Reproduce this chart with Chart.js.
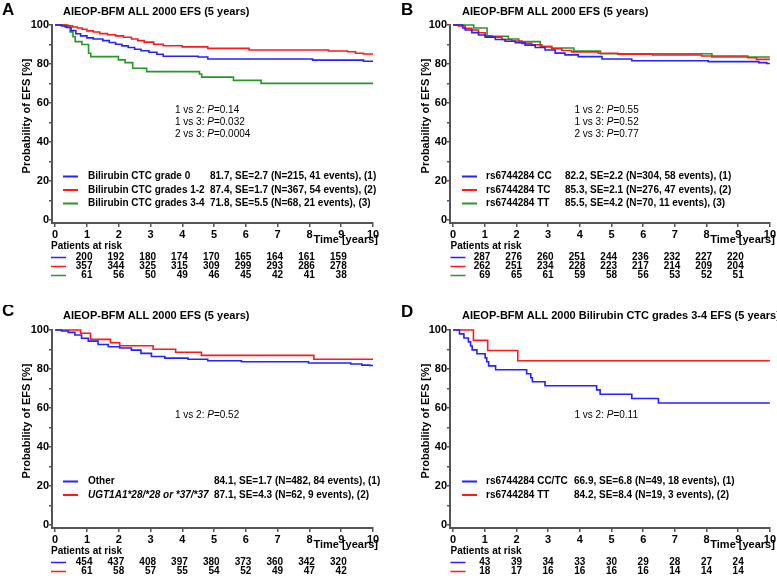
<!DOCTYPE html>
<html>
<head>
<meta charset="utf-8">
<script src="https://cdn.jsdelivr.net/npm/chart.js@4.4.1/dist/chart.umd.min.js"></script>
<style>
  body { margin: 0; background: #fff; width: 777px; height: 576px; position: relative; overflow: hidden; }
  canvas { position: absolute; }
</style>
</head>
<body>
<canvas id="chartA" width="388" height="305" style="left:0;top:0"></canvas>
<canvas id="chartB" width="389" height="305" style="left:388px;top:0"></canvas>
<canvas id="chartC" width="388" height="271" style="left:0;top:305px"></canvas>
<canvas id="chartD" width="389" height="271" style="left:388px;top:305px"></canvas>
<script>
// axis ticks
const xTicks = [0, 1, 2, 3, 4, 5, 6, 7, 8, 9, 10];
const yTicks = [0, 10, 20, 30, 40, 50, 60, 70, 80, 90, 100];

// A: bilirubin CTC grade, [years, EFS %]
const efsGrade0 = [[0,100],[0.2,99.5],[0.35,98.7],[0.5,97.2],[0.65,95.5],[0.8,94.4],[1.0,93.4],[1.2,92.8],[1.5,92.0],[1.7,91.0],[1.9,90.1],[2.1,89.3],[2.3,88.5],[2.5,87.6],[2.7,86.8],[2.95,86.0],[3.2,85.0],[3.4,84.0],[4.5,83.6],[4.8,82.6],[8.1,82.0],[9.7,81.4],[10,81.4]];
const efsGrade12 = [[0,100],[0.4,99.6],[0.55,99.0],[0.7,98.5],[0.85,97.8],[1.0,97.0],[1.2,96.4],[1.4,95.6],[1.65,95.0],[1.9,94.4],[2.15,93.7],[2.4,92.8],[2.6,92.0],[2.8,91.2],[3.1,90.1],[3.4,89.4],[4.0,88.8],[4.8,88.0],[6.1,87.2],[8.6,86.7],[9.2,86.3],[9.45,85.5],[9.7,85.1],[10,85.1]];
const efsGrade34 = [[0,100],[0.31,99.0],[0.47,96.5],[0.56,94.0],[0.63,91.5],[0.84,90.0],[1.05,85.5],[1.12,83.8],[1.99,82.1],[2.2,80.7],[2.44,77.8],[2.88,76.1],[4.54,74.9],[4.61,73.3],[5.61,71.6],[6.48,70.1],[10,70.1]];
const riskGrade0 = [200, 192, 180, 174, 170, 165, 164, 161, 159];
const riskGrade12 = [357, 344, 325, 315, 309, 299, 293, 286, 278];
const riskGrade34 = [61, 56, 50, 49, 46, 45, 42, 41, 38];

// B: rs6744284 genotype
const efsCC = [[0,100],[0.3,98.5],[0.38,97.4],[0.59,96.1],[0.8,94.9],[1.01,93.8],[1.33,92.6],[1.64,91.7],[1.96,90.9],[2.27,89.7],[2.59,88.5],[2.9,87.2],[3.22,85.6],[3.53,84.7],[3.95,83.8],[4.7,82.6],[5.64,81.7],[8.05,81.2],[9.65,80.7],[9.9,80.3],[10,80.3]];
const efsTC = [[0,100],[0.17,99.5],[0.38,98.3],[0.59,97.4],[0.8,96.0],[1.01,94.5],[1.22,93.8],[1.54,92.6],[1.85,91.8],[2.17,90.6],[2.48,89.9],[2.8,88.9],[3.11,87.8],[3.43,86.9],[3.74,86.2],[4.58,85.5],[5.2,85.0],[6.3,84.6],[7.85,84.1],[9.3,83.2],[9.58,82.4],[10,82.4]];
const efsTT = [[0,100],[0.65,98.5],[1.07,94.2],[1.74,92.8],[2.07,91.5],[2.75,88.9],[3.11,88.2],[3.81,86.6],[4.65,85.3],[8.17,83.6],[10,83.6]];
const riskCC = [287, 276, 260, 251, 244, 236, 232, 227, 220];
const riskTC = [262, 251, 234, 228, 223, 217, 214, 209, 204];
const riskTT = [69, 65, 61, 59, 58, 56, 53, 52, 51];

// C: UGT1A1 genotype
const efsOther = [[0,100],[0.2,99.5],[0.41,98.8],[0.62,97.4],[0.83,95.8],[1.04,94.3],[1.35,92.6],[1.67,91.4],[2.03,90.8],[2.4,89.7],[2.7,88.0],[3.03,86.4],[3.45,85.6],[4.18,85.0],[4.8,84.2],[5.86,83.7],[7.97,83.1],[9.3,82.6],[9.65,82.0],[9.9,81.8],[10,81.8]];
const efsUgt = [[0,100],[0.8,98.3],[1.11,95.2],[1.74,93.5],[2.03,91.9],[3.08,90.1],[3.79,88.6],[4.6,87.0],[8.14,85.0],[10,85.0]];
const riskOther = [454, 437, 408, 397, 380, 373, 360, 342, 320];
const riskUgt = [61, 58, 57, 55, 54, 52, 49, 47, 42];

// D: grades 3-4 by rs6744284
const efsCCTC = [[0,100],[0.2,98.0],[0.34,95.9],[0.48,93.9],[0.55,91.8],[0.6,89.8],[0.75,87.8],[1.01,85.7],[1.06,83.7],[1.12,81.6],[1.34,79.6],[2.32,77.6],[2.45,75.5],[2.5,73.5],[2.9,71.4],[4.53,69.3],[4.64,67.1],[5.64,64.9],[6.48,62.6],[10,62.6]];
const efsTT34 = [[0,100],[0.64,94.7],[1.09,89.5],[2.04,84.2],[10,84.2]];
const riskCCTC = [43, 39, 34, 33, 30, 29, 28, 27, 24];
const riskTT34 = [18, 17, 16, 16, 16, 16, 14, 14, 14];

const BLUE = "rgb(35,35,255)";
const RED = "rgb(255,25,25)";
const GREEN = "rgb(40,150,40)";
const FONT = "Arial, 'Liberation Sans', sans-serif";

// draws the letter, title, p values, legend and the patients-at-risk table
function kmText(p) {
  return {
    id: "kmText",
    afterDraw(chart) {
      const ctx = chart.ctx;
      const xs = chart.scales.x;
      ctx.save();
      ctx.fillStyle = "#000";
      ctx.textBaseline = "middle";
      ctx.textAlign = "left";

      ctx.font = "bold 17px " + FONT;
      ctx.fillText(p.letter, p.letterX, p.letterY);
      ctx.font = "bold 11px " + FONT;
      ctx.fillText(p.title, p.titleX, p.titleY);

      ctx.save();
      ctx.translate(p.yTitleX, 116);
      ctx.rotate(-Math.PI / 2);
      ctx.textAlign = "center";
      ctx.fillText("Probability of EFS [%]", 0, 0);
      ctx.restore();

      ctx.textAlign = "right";
      ctx.fillText("Time [years]", xs.getPixelForValue(10) + 5, 240);
      ctx.textAlign = "left";

      // p values, P in italics
      p.pvals.forEach((pv, i) => {
        let x = p.pX;
        const y = 110.5 + i * 12;
        [[pv[0] + ": ", "10px "], ["P", "italic 10px "], ["=" + pv[1], "10px "]].forEach(([s, f]) => {
          ctx.font = f + FONT;
          ctx.fillText(s, x, y);
          x += ctx.measureText(s).width;
        });
      });

      // legend inside the plot
      p.groups.forEach((g, i) => {
        const y = 176.5 + i * 13.5;
        ctx.strokeStyle = g.color;
        ctx.lineWidth = 2;
        ctx.beginPath();
        ctx.moveTo(p.swX, y);
        ctx.lineTo(p.swX + 15, y);
        ctx.stroke();
        ctx.font = (g.italic ? "italic bold 10px " : "bold 10px ") + FONT;
        ctx.fillText(g.label, p.labelX, y);
        ctx.font = "bold 10px " + FONT;
        ctx.fillText(g.stats, p.statsX, y);
      });

      // patients at risk
      ctx.font = "bold 10px " + FONT;
      ctx.fillText("Patients at risk", p.riskX, 246.5);
      p.groups.forEach((g, i) => {
        const y = 257.5 + i * 9;
        ctx.strokeStyle = g.color;
        ctx.lineWidth = 1.5;
        ctx.beginPath();
        ctx.moveTo(p.riskX, y);
        ctx.lineTo(p.riskX + 15, y);
        ctx.stroke();
        ctx.textAlign = "right";
        g.risk.forEach((n, k) => ctx.fillText(String(n), xs.getPixelForValue(k + 1) + 5.5, y));
        ctx.textAlign = "left";
      });
      ctx.restore();
    },
  };
}

function makeChart(id, p) {
  const axisColor = "#555";
  return new Chart(document.getElementById(id), {
    type: "line",
    data: {
      datasets: p.groups.map((g) => ({
        data: g.curve.map(([x, y]) => ({ x: x, y: y })),
        borderColor: g.color,
        borderWidth: 1.6,
        stepped: true,
        pointRadius: 0,
        fill: false,
        clip: 4,
      })),
    },
    options: {
      responsive: false,
      animation: false,
      events: [],
      layout: { padding: { left: 0, right: p.padRight, top: 25, bottom: 0 } },
      plugins: { legend: { display: false }, tooltip: { enabled: false } },
      scales: {
        x: {
          type: "linear",
          min: -0.1,
          max: 10,
          afterBuildTicks: (s) => { s.ticks = xTicks.map((v) => ({ value: v })); },
          afterFit: (s) => { s.height = p.h - 223; },
          ticks: { color: "#000", font: { family: FONT, size: 11, weight: "bold" }, padding: 1, maxRotation: 0, autoSkip: false },
          grid: { display: true, drawOnChartArea: false, drawTicks: true, tickLength: 4, color: axisColor, lineWidth: 1.5 },
          border: { display: true, color: axisColor, width: 2 },
        },
        y: {
          type: "linear",
          min: -1.5,
          max: 100,
          afterBuildTicks: (s) => { s.ticks = yTicks.map((v) => ({ value: v })); },
          afterFit: (s) => { s.width = p.axisLeft; },
          ticks: {
            color: "#000",
            font: { family: FONT, size: 11, weight: "bold" },
            padding: 0,
            autoSkip: false,
            callback: (v) => (v % 20 === 0 ? String(v) : ""),
          },
          grid: { display: true, drawOnChartArea: false, drawTicks: true, tickLength: 3, color: axisColor, lineWidth: 1.5 },
          border: { display: true, color: axisColor, width: 2 },
        },
      },
    },
    plugins: [kmText(p)],
  });
}

const leftPanel = { axisLeft: 52, padRight: 15, letterX: 2, titleX: 63, yTitleX: 26.5, pX: 175, swX: 63, labelX: 88, riskX: 51 };
const rightPanel = { axisLeft: 62, padRight: 6, letterX: 13, titleX: 74, yTitleX: 37.5, pX: 186.5, swX: 74, labelX: 98, riskX: 62.5 };

makeChart("chartA", Object.assign({}, leftPanel, {
  h: 305, letter: "A", letterY: 10, titleY: 12,
  title: "AIEOP-BFM ALL 2000 EFS (5 years)",
  pvals: [["1 vs 2", "0.14"], ["1 vs 3", "0.032"], ["2 vs 3", "0.0004"]],
  statsX: 210,
  groups: [
    { label: "Bilirubin CTC grade 0", stats: "81.7, SE=2.7 (N=215, 41 events), (1)", color: BLUE, curve: efsGrade0, risk: riskGrade0 },
    { label: "Bilirubin CTC grades 1-2", stats: "87.4, SE=1.7 (N=367, 54 events), (2)", color: RED, curve: efsGrade12, risk: riskGrade12 },
    { label: "Bilirubin CTC grades 3-4", stats: "71.8, SE=5.5 (N=68, 21 events), (3)", color: GREEN, curve: efsGrade34, risk: riskGrade34 },
  ],
}));

makeChart("chartB", Object.assign({}, rightPanel, {
  h: 305, letter: "B", letterY: 10, titleY: 12,
  title: "AIEOP-BFM ALL 2000 EFS (5 years)",
  pvals: [["1 vs 2", "0.55"], ["1 vs 3", "0.52"], ["2 vs 3", "0.77"]],
  statsX: 177,
  groups: [
    { label: "rs6744284 CC", stats: "82.2, SE=2.2 (N=304, 58 events), (1)", color: BLUE, curve: efsCC, risk: riskCC },
    { label: "rs6744284 TC", stats: "85.3, SE=2.1 (N=276, 47 events), (2)", color: RED, curve: efsTC, risk: riskTC },
    { label: "rs6744284 TT", stats: "85.5, SE=4.2 (N=70, 11 events), (3)", color: GREEN, curve: efsTT, risk: riskTT },
  ],
}));

makeChart("chartC", Object.assign({}, leftPanel, {
  h: 271, letter: "C", letterY: 6.5, titleY: 10.5,
  title: "AIEOP-BFM ALL 2000 EFS (5 years)",
  pvals: [["1 vs 2", "0.52"]],
  statsX: 214,
  groups: [
    { label: "Other", stats: "84.1, SE=1.7 (N=482, 84 events), (1)", color: BLUE, curve: efsOther, risk: riskOther },
    { label: "UGT1A1*28/*28 or *37/*37", italic: true, stats: "87.1, SE=4.3 (N=62, 9 events), (2)", color: RED, curve: efsUgt, risk: riskUgt },
  ],
}));

makeChart("chartD", Object.assign({}, rightPanel, {
  h: 271, letter: "D", letterY: 7, titleY: 10.5,
  title: "AIEOP-BFM ALL 2000 Bilirubin CTC grades 3-4 EFS (5 years)",
  pvals: [["1 vs 2", "0.11"]],
  statsX: 186,
  groups: [
    { label: "rs6744284 CC/TC", stats: "66.9, SE=6.8 (N=49, 18 events), (1)", color: BLUE, curve: efsCCTC, risk: riskCCTC },
    { label: "rs6744284 TT", stats: "84.2, SE=8.4 (N=19, 3 events), (2)", color: RED, curve: efsTT34, risk: riskTT34 },
  ],
}));
</script>
</body>
</html>
